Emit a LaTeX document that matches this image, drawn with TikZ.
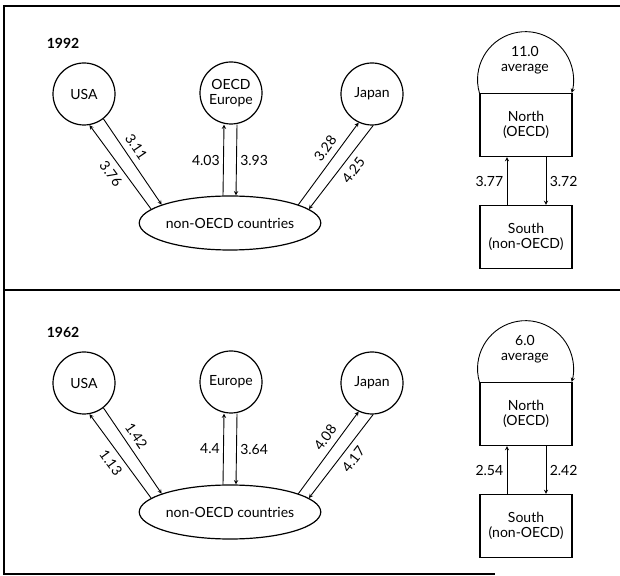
\documentclass[tikz,border=0pt]{standalone}
\usepackage{fontspec}
\setmainfont{Lato}
\usetikzlibrary{shapes.geometric}

\begin{document}
\begin{tikzpicture}[x=1pt,y=1pt,>=stealth,
	every node/.style={font=\fontsize{14}{15}\selectfont},
	country/.style={circle,draw,line width=1.2pt,minimum size=62pt,inner sep=0pt,align=center},
	rest/.style={ellipse,draw,line width=1.2pt,minimum width=180pt,minimum height=54pt,inner sep=0pt},
	region/.style={rectangle,draw,line width=1.2pt,minimum width=92pt,minimum height=63pt,inner sep=0pt,align=center},
	flow/.style={->,line width=0.9pt},
	amount/.style={sloped,inner sep=6pt},
	year/.style={font=\fontsize{14}{15}\selectfont\bfseries}]
	\useasboundingbox (0,0) rectangle (620,575);
	
	%frame
	\draw[line width=1.5pt] (620,569) -- (4,569) -- (4,1) -- (495,1);
	\draw[line width=1.5pt] (4,285) -- (620,285);
	
	%1992
	\node[year] (y92) at (63,532) {1992};
	\node[country] (usa92) at (84,481) {USA};
	\node[country] (eur92) at (231,482) {OECD\\Europe};
	\node[country] (jap92) at (372,481) {Japan};
	\node[rest] (non92) at (230,352) {non-OECD countries};
	\node[region] (north92) at (526,450) {North\\(OECD)};
	\node[region] (south92) at (526,338) {South\\(non-OECD)};
	\node[align=center] (avg92) at (525,515) {11.0\\average};
	
	\draw[flow] (non92.170) -- node[amount,below] {3.76} (usa92.-80);
	\draw[flow] (usa92.-52) -- node[amount,above,pos=.4] {3.11} (non92.165);
	\draw[flow] ([xshift=-7pt]non92.north) -- node[left] {4.03} ([xshift=-7pt]eur92.south);
	\draw[flow] ([xshift=6pt]eur92.south) -- node[right] {3.93} ([xshift=6pt]non92.north);
	\draw[flow] (non92.15) -- node[amount,above,pos=.6] {3.28} (jap92.-115);
	\draw[flow] (jap92.-88) -- node[amount,below,pos=.45] {4.25} (non92.10);
	
	\draw[flow] ([xshift=-19pt]south92.north) -- node[left] {3.77} ([xshift=-19pt]north92.south);
	\draw[flow] ([xshift=20pt]north92.south) -- node[right] {3.72} ([xshift=20pt]south92.north);
	\draw[flow] (north92.north west) arc[start angle=196,end angle=-16,radius=48];
	
	%1962
	\node[year] (y62) at (63,243) {1962};
	\node[country] (usa62) at (84,192) {USA};
	\node[country] (eur62) at (231,193) {Europe};
	\node[country] (jap62) at (372,192) {Japan};
	\node[rest] (non62) at (230,63) {non-OECD countries};
	\node[region] (north62) at (526,161) {North\\(OECD)};
	\node[region] (south62) at (526,49) {South\\(non-OECD)};
	\node[align=center] (avg62) at (525,226) {6.0\\average};
	
	\draw[flow] (non62.170) -- node[amount,below] {1.13} (usa62.-80);
	\draw[flow] (usa62.-52) -- node[amount,above,pos=.4] {1.42} (non62.165);
	\draw[flow] ([xshift=-7pt]non62.north) -- node[left] {4.4} ([xshift=-7pt]eur62.south);
	\draw[flow] ([xshift=6pt]eur62.south) -- node[right] {3.64} ([xshift=6pt]non62.north);
	\draw[flow] (non62.15) -- node[amount,above,pos=.6] {4.08} (jap62.-115);
	\draw[flow] (jap62.-88) -- node[amount,below,pos=.45] {4.17} (non62.10);
	
	\draw[flow] ([xshift=-19pt]south62.north) -- node[left] {2.54} ([xshift=-19pt]north62.south);
	\draw[flow] ([xshift=20pt]north62.south) -- node[right] {2.42} ([xshift=20pt]south62.north);
	\draw[flow] (north62.north west) arc[start angle=196,end angle=-16,radius=48];
\end{tikzpicture}
\end{document}
